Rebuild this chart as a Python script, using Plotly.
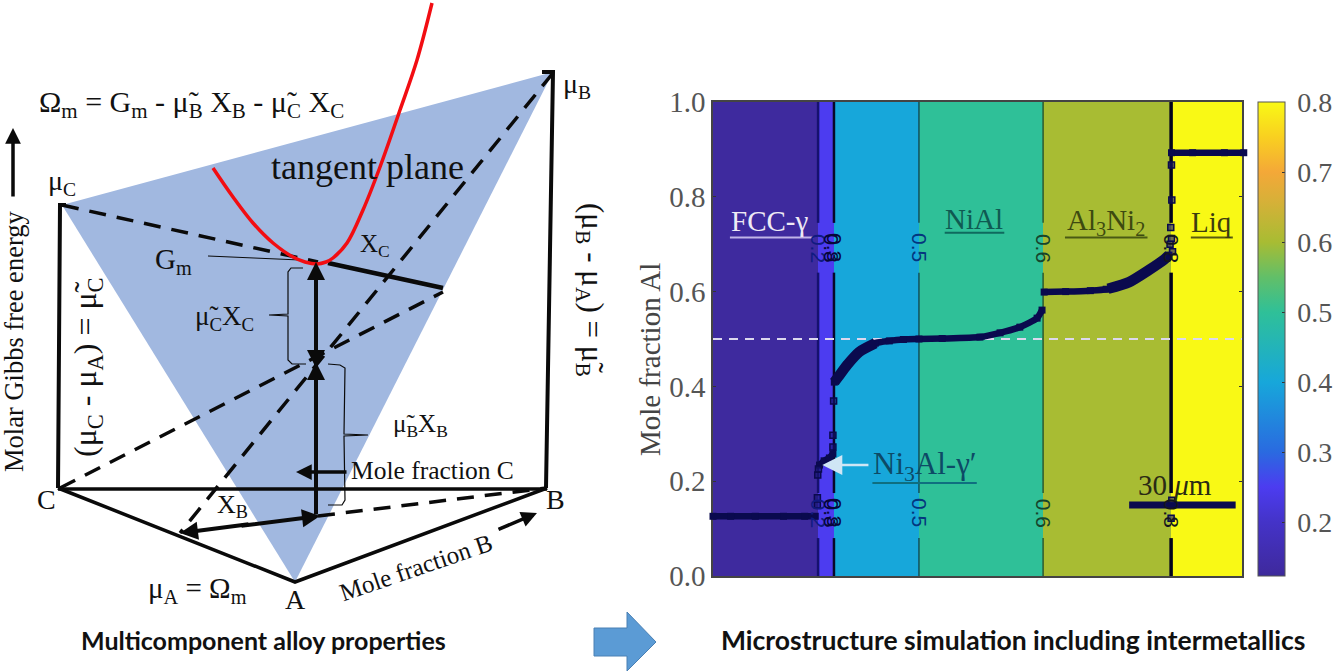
import plotly.graph_objects as go

# ---------- right panel data (x in micrometres, y mole fraction) ----------
phase_edges = [0, 29.8, 34.3, 58.4, 93.6, 129.9, 150]
phase_values = [0.128, 0.25, 0.40, 0.50, 0.60, 0.80]
boundary_x = [29.8, 34.3, 58.4, 93.6, 129.9]
boundary_colors = ["#16126e", "#08082a", "#14505a", "#2c5a30", "#04041c"]
boundary_widths = [2.5, 2.5, 1.5, 1.5, 3.5]
label_text = ["0.2", "0.3", "0.5", "0.6", "0.8"]
label_colors = ["#101a80", "#06063a", "#04357e", "#16442c", "#15151c"]

curve_x = [0.0, 5, 12, 20, 26, 29.0, None,
           30.2, 31.5, 33.0, 34.0, None,
           34.4, 35.5, 38, 41.5, 46, 50, 54, 58.4, 65, 75.7, 81.4, 87, 91.9, 93.3, None,
           93.9, 100, 107, 111.5, 118, 123.5, 128, 129.3, None,
           130.0, 136, 145, 150.5]
curve_y = [0.126, 0.126, 0.126, 0.126, 0.126, 0.126, None,
           0.234, 0.243, 0.249, 0.258, None,
           0.409, 0.420, 0.445, 0.473, 0.491, 0.496, 0.499, 0.500, 0.501, 0.504, 0.513, 0.525, 0.544, 0.561, None,
           0.599, 0.600, 0.602, 0.605, 0.620, 0.645, 0.668, 0.677, None,
           0.893, 0.893, 0.893, 0.893]
thick_x = [34.4, 35.5, 38, 41.5, 46, None, 112, 118, 123.5, 128, 129.3]
thick_y = [0.409, 0.420, 0.445, 0.473, 0.491, None, 0.606, 0.620, 0.645, 0.668, 0.677]
outlier_x = [29.6, 29.6, 29.7, 34.0, 34.0, 34.2, 29.9, 129.6, 130.0, 129.8, 130.3, 130.1, 130.0, 129.9, 130.1]
outlier_y = [0.165, 0.150, 0.213, 0.272, 0.297, 0.369, 0.226, 0.700, 0.712, 0.735, 0.684, 0.793, 0.867, 0.122, 0.160]

ytick_vals = [0, 0.2, 0.4, 0.6, 0.8, 1.0]
ytick_text = ["0.0", "0.2", "0.4", "0.6", "0.8", "1.0"]
cbar_ticks = [0.2, 0.3, 0.4, 0.5, 0.6, 0.7, 0.8]
cbar_min, cbar_max = 0.123, 0.8
cmap_values = [0.123, 0.13, 0.2, 0.25, 0.3, 0.4, 0.5, 0.55, 0.6, 0.66, 0.7, 0.75, 0.8]
cmap_colors = ["#3a2a98", "#3f2aa0", "#4433c8", "#4c3cf0", "#2a6ae0", "#17a7da", "#2fc098", "#62bf68", "#a8bc33",
               "#d8b038", "#f4a838", "#f9d020", "#f9f915"]

# ---------- left panel geometry (image pixel coordinates) ----------
plane_x = [62, 553, 295, 62]
plane_y = [205, 72, 582, 205]
red_x = [213, 233, 253, 273, 293, 305, 317, 326, 333, 347, 363, 380, 400, 417, 432]
red_y = [168, 197, 223, 243, 257, 262, 264, 262, 258, 243, 210, 167, 110, 60, 3]
solid_segments = [
    ([66, 60, 58], [205, 205, 488], 4),
    ([58, 295, 547], [488, 582, 488], 3.5),
    ([58, 547], [489, 489], 3.5),
    ([546, 553, 542], [488, 72, 72], 4),
    ([328, 443], [263, 288], 4.5),
]
dashed_segments = [
    ([62, 318], [205, 262]),
    ([553, 180], [73, 533]),
    ([60, 443], [488, 292]),
    ([318, 547], [516, 488]),
]
thin_segments = [
    ([208, 300], [256, 260], 1),
    ([303, 291, 288, 288, 269, 288, 288, 292, 306], [268, 268, 272, 314, 315, 316, 360, 364, 364], 1.2),
    ([328, 340, 345, 344, 368, 344, 345, 342, 328], [364, 365, 368, 434, 435, 436, 500, 505, 505], 1.2),
]
# arrows: tail x, tail y, head x, head y, line width
arrows = [
    (316, 516, 316, 262, 4),
    (316, 450, 316, 362, 4),
    (316, 300, 316, 368, 4),
    (250, 524, 180, 533, 4),
    (240, 526, 320, 516, 4),
    (348, 472, 296, 472, 3.5),
    (497, 530, 537, 513, 3.5),
    (13, 198, 13, 128, 3.5),
]
block_x = [594, 627, 627, 656, 627, 627, 594, 594]
block_y = [628, 628, 612, 642, 671, 656, 656, 628]

SERIF = "Liberation Serif"
# text, x, y, size, angle
panel_text = [
    ("Ω<sub>m</sub> = G<sub>m</sub> - μ̃<sub>B</sub> X<sub>B</sub> - μ̃<sub>C</sub> X<sub>C</sub>", 191, 104, 30, 0),
    ("tangent plane", 367, 167, 36, 0),
    ("μ<sub>C</sub>", 62, 182, 28, 0),
    ("μ<sub>B</sub>", 577, 85, 28, 0),
    ("G<sub>m</sub>", 173, 261, 29, 0),
    ("μ̃<sub>C</sub>X<sub>C</sub>", 224, 318, 27, 0),
    ("X<sub>C</sub>", 375, 245, 25, 0),
    ("μ̃<sub>B</sub>X<sub>B</sub>", 420, 425, 25, 0),
    ("X<sub>B</sub>", 232, 506, 26, 0),
    ("C", 46, 499, 28, 0),
    ("B", 555, 499, 28, 0),
    ("A", 295, 599, 28, 0),
    ("μ<sub>A</sub> = Ω<sub>m</sub>", 197, 590, 29, 0),
    ("Mole fraction C", 432, 470, 25.5, 0),
    ("Mole fraction B", 416, 567, 25, -19),
    ("Molar Gibbs free energy", 14, 342, 26.5, -90),
    ("(μ<sub>C</sub> - μ<sub>A</sub>) = μ̃<sub>C</sub>", 87, 367, 32, -90),
    ("(μ<sub>B</sub> - μ<sub>A</sub>) = μ̃<sub>B</sub>", 590, 290, 31, 90),
]
# phase labels: text, x (um), y (fraction), colour, size, underline start, underline end, underline y, underline colour
phase_labels = [
    ("FCC-γ", 15.9, 0.750, "#efeaf5", 29, 4.8, 28.4, 0.714, "#c0b4e8"),
    ("NiAl", 74.0, 0.753, "#0f5a52", 29, 65.7, 82.6, 0.724, "#0f6a5e"),
    ("Al<sub>3</sub>Ni<sub>2</sub>", 111.4, 0.747, "#3d4a10", 29, 99.8, 123.2, 0.714, "#4a5a14"),
    ("Liq", 141.2, 0.747, "#3d3d10", 29, 135.5, 147.4, 0.714, "#5a5a10"),
    ("Ni<sub>3</sub>Al-γ′", 60, 0.232, "#0d4a66", 31, 45.2, 74.8, 0.196, "#0f6f80"),
]
dash_y = [0.5, 0.5]
dash_x = [0, 150]
scale_x = [118.0, 148.2]
scale_y = [0.150, 0.150]

fig = go.Figure()

# heatmap of phases
t = [(v - cbar_min) / (cbar_max - cbar_min) for v in cmap_values]
fig.add_trace(go.Heatmap(
    x=phase_edges, y=[0, 1], z=[phase_values], zmin=cbar_min, zmax=cbar_max,
    colorscale=[[a, c] for a, c in zip(t, cmap_colors)], xaxis="x", yaxis="y",
    colorbar=dict(x=1258 / 1333, xanchor="left", xpad=0, ypad=0, thickness=27, thicknessmode="pixels",
                  len=474 / 672, lenmode="fraction", y=96 / 672, yanchor="bottom",
                  tickvals=cbar_ticks, ticktext=[f"\u2009{v:.1f}" for v in cbar_ticks],
                  tickfont=dict(family=SERIF, size=28, color="#555555"), ticks="inside", ticklen=3,
                  tickcolor="#333333", outlinecolor="#555555", outlinewidth=1),
    hoverinfo="skip"))

# contour lines with gaps for their labels
for bx, col, w in zip(boundary_x, boundary_colors, boundary_widths):
    fig.add_trace(go.Scatter(x=[bx, bx, None, bx, bx, None, bx, bx], y=[0, 0.08, None, 0.175, 0.64, None, 0.745, 1],
                             mode="lines", line=dict(color=col, width=w), xaxis="x", yaxis="y", showlegend=False))

fig.add_trace(go.Scatter(x=dash_x, y=dash_y, mode="lines", line=dict(color="#dcd8ee", width=2, dash="9px,7px"),
                         xaxis="x", yaxis="y", showlegend=False))
fig.add_trace(go.Scatter(x=scale_x, y=scale_y, mode="lines", line=dict(color="#0a0a4e", width=7),
                         xaxis="x", yaxis="y", showlegend=False))
for *_, u0, u1, uy, ucol in phase_labels:
    fig.add_trace(go.Scatter(x=[u0, u1], y=[uy, uy], mode="lines", line=dict(color=ucol, width=2),
                             xaxis="x", yaxis="y", showlegend=False))

# composition curve on a slightly wider twin of the x axis, so that its ends pass the frame
fig.add_trace(go.Scatter(x=curve_x, y=curve_y, mode="lines+markers",
                         line=dict(color="#0a0a4e", width=6.5, shape="spline", smoothing=0.6),
                         marker=dict(symbol="square", size=7, color="#0a0a4e"),
                         xaxis="x3", yaxis="y3", showlegend=False))
fig.add_trace(go.Scatter(x=thick_x, y=thick_y, mode="lines",
                         line=dict(color="#0a0a4e", width=10.5, shape="spline", smoothing=0.6),
                         xaxis="x3", yaxis="y3", showlegend=False))
fig.add_trace(go.Scatter(x=outlier_x, y=outlier_y, mode="markers",
                         marker=dict(symbol="square", size=6, color="rgba(20,20,110,0.6)",
                                     line=dict(color="#0a0a4e", width=1.5)),
                         xaxis="x3", yaxis="y3", showlegend=False))

# left panel
fig.add_trace(go.Scatter(x=plane_x, y=plane_y, mode="lines", fill="toself", fillcolor="#a1b8e0",
                         line=dict(width=0, color="#a1b8e0"), xaxis="x2", yaxis="y2", showlegend=False))
for sx, sy in dashed_segments:
    fig.add_trace(go.Scatter(x=sx, y=sy, mode="lines", line=dict(color="#0a0a0a", width=3.5, dash="17px,11px"),
                             xaxis="x2", yaxis="y2", showlegend=False))
for sx, sy, w in solid_segments + thin_segments:
    fig.add_trace(go.Scatter(x=sx, y=sy, mode="lines", line=dict(color="#0a0a0a", width=w),
                             xaxis="x2", yaxis="y2", showlegend=False))
fig.add_trace(go.Scatter(x=red_x, y=red_y, mode="lines", line=dict(color="#f20d12", width=3.5, shape="spline"),
                         xaxis="x2", yaxis="y2", showlegend=False))
fig.add_trace(go.Scatter(x=block_x, y=block_y, mode="lines", fill="toself", fillcolor="#5b9bd5",
                         line=dict(width=1, color="#4a80b4"), xaxis="x2", yaxis="y2", showlegend=False))

ann = []
for tx, x, y, s, a in panel_text:
    ann.append(dict(text=tx, x=x, y=y, xref="x2", yref="y2", showarrow=False, textangle=a,
                    font=dict(family=SERIF, size=s, color="#111111")))
for x0, y0, x1, y1, w in arrows:
    ann.append(dict(text="", x=x1, y=y1, ax=x0, ay=y0, xref="x2", yref="y2", axref="x2", ayref="y2",
                    showarrow=True, arrowhead=2, arrowsize=0.9, arrowwidth=w, arrowcolor="#0a0a0a"))
ann.append(dict(text="Multicomponent alloy properties", x=263, y=640, xref="x2", yref="y2", showarrow=False,
                font=dict(family="Lato", size=25, color="#111111", weight="bold")))
ann.append(dict(text="Microstructure simulation including intermetallics", x=1013, y=640, xref="x2", yref="y2",
                showarrow=False, font=dict(family="Lato", size=26.5, color="#111111", weight="bold")))
ann.append(dict(text="Mole fraction Al", x=650, y=360, xref="x2", yref="y2", showarrow=False, textangle=-90,
                font=dict(family=SERIF, size=29, color="#444444")))
for bx, lab, col in zip(boundary_x, label_text, label_colors):
    for ly in (0.692, 0.133):
        ann.append(dict(text=lab, x=bx, y=ly, xref="x", yref="y", showarrow=False, textangle=90,
                        font=dict(family="Liberation Sans", size=21, color=col)))
for ly, lab in ((0.692, "0.8"), (0.133, "0.8")):
    ann.append(dict(text=lab, x=33.6, y=ly, xref="x", yref="y", showarrow=False, textangle=90,
                    font=dict(family="Liberation Sans", size=21, color="#06063a")))
for tx, x, y, col, s, *_ in phase_labels:
    ann.append(dict(text=tx, x=x, y=y, xref="x", yref="y", showarrow=False,
                    font=dict(family=SERIF, size=s, color=col)))
ann.append(dict(text="30 <i>μ</i>m", x=131, y=0.193, xref="x", yref="y", showarrow=False,
                font=dict(family=SERIF, size=29, color="#2a2a14")))
ann.append(dict(text="", x=31.0, y=0.234, ax=44.5, ay=0.234, xref="x", yref="y", axref="x", ayref="y",
                showarrow=True, arrowhead=2, arrowsize=1.6, arrowwidth=2.5, arrowcolor="#cfe6f5"))

fig.update_layout(
    width=1333, height=672, margin=dict(l=0, r=0, t=0, b=0, autoexpand=False),
    paper_bgcolor="white", plot_bgcolor="rgba(0,0,0,0)",
    showlegend=False, annotations=ann,
    xaxis=dict(domain=[713 / 1333, 1242 / 1333], range=[0, 150], showticklabels=False, ticks="", showgrid=False,
               zeroline=False, showline=True, linecolor="#444444", linewidth=1.5, mirror=True, anchor="y"),
    yaxis=dict(domain=[96 / 672, 570 / 672], range=[0, 1], tickvals=ytick_vals, ticktext=ytick_text,
               tickfont=dict(family=SERIF, size=29, color="#555555"), ticks="inside", ticklen=3, tickcolor="#333333",
               showgrid=True, gridcolor="rgba(0,0,0,0.12)", layer="above traces",
               zeroline=False, showline=True, linecolor="#444444", linewidth=1.5, mirror="ticks", anchor="x"),
    xaxis2=dict(domain=[0, 1], range=[0, 1333], visible=False, anchor="y2", fixedrange=True),
    yaxis2=dict(domain=[0, 1], range=[672, 0], visible=False, anchor="x2", fixedrange=True),
    xaxis3=dict(domain=[703 / 1333, 1252 / 1333], range=[-2.835, 152.835], visible=False, anchor="y3", fixedrange=True),
    yaxis3=dict(domain=[96 / 672, 570 / 672], range=[0, 1], visible=False, anchor="x3", fixedrange=True),
)
fig.write_html("out.html", config=dict(displayModeBar=False), post_script="document.body.style.margin='0';")
